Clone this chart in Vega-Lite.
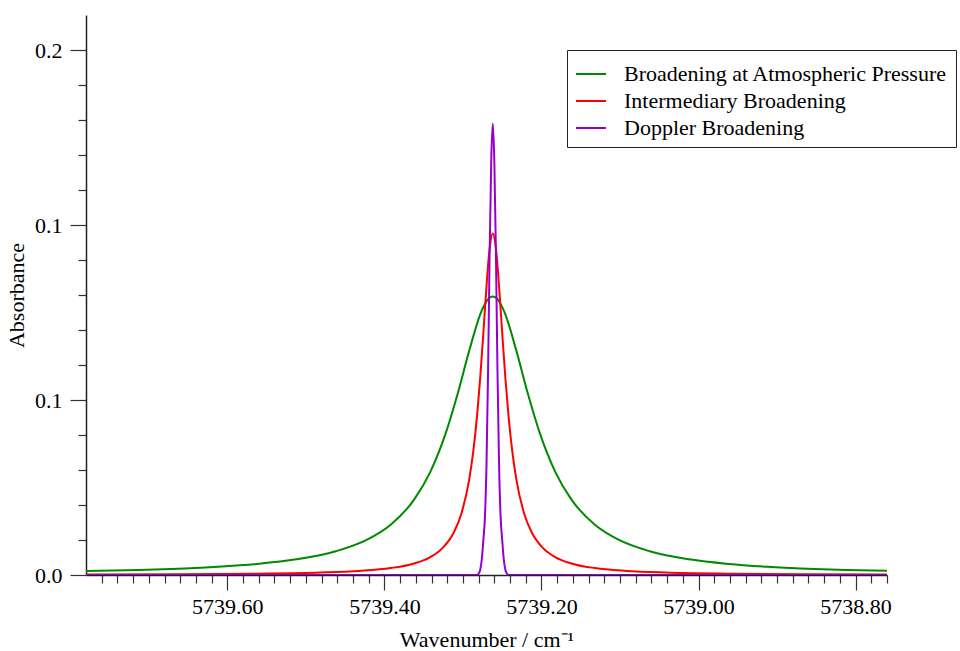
{
  "$schema": "https://vega.github.io/schema/vega-lite/v6.json",
  "width": 801,
  "height": 560,
  "autosize": {"type": "none"},
  "padding": {"left": 86, "top": 15, "right": 73, "bottom": 76},
  "background": "white",
  "config": {"view": {"stroke": null}, "font": "Liberation Serif"},
  "data": {"values": [
    {"s": "Broadening at Atmospheric Pressure", "x": 5739.780, "y": 0.00112},
    {"s": "Broadening at Atmospheric Pressure", "x": 5739.712, "y": 0.00144},
    {"s": "Broadening at Atmospheric Pressure", "x": 5739.662, "y": 0.00181},
    {"s": "Broadening at Atmospheric Pressure", "x": 5739.612, "y": 0.00235},
    {"s": "Broadening at Atmospheric Pressure", "x": 5739.562, "y": 0.00316},
    {"s": "Broadening at Atmospheric Pressure", "x": 5739.512, "y": 0.00447},
    {"s": "Broadening at Atmospheric Pressure", "x": 5739.462, "y": 0.00678},
    {"s": "Broadening at Atmospheric Pressure", "x": 5739.422, "y": 0.01010},
    {"s": "Broadening at Atmospheric Pressure", "x": 5739.392, "y": 0.01436},
    {"s": "Broadening at Atmospheric Pressure", "x": 5739.362, "y": 0.02159},
    {"s": "Broadening at Atmospheric Pressure", "x": 5739.342, "y": 0.02927},
    {"s": "Broadening at Atmospheric Pressure", "x": 5739.322, "y": 0.04046},
    {"s": "Broadening at Atmospheric Pressure", "x": 5739.307, "y": 0.05155},
    {"s": "Broadening at Atmospheric Pressure", "x": 5739.292, "y": 0.06410},
    {"s": "Broadening at Atmospheric Pressure", "x": 5739.277, "y": 0.07506},
    {"s": "Broadening at Atmospheric Pressure", "x": 5739.269, "y": 0.07857},
    {"s": "Broadening at Atmospheric Pressure", "x": 5739.262, "y": 0.07960},
    {"s": "Broadening at Atmospheric Pressure", "x": 5739.255, "y": 0.07857},
    {"s": "Broadening at Atmospheric Pressure", "x": 5739.247, "y": 0.07506},
    {"s": "Broadening at Atmospheric Pressure", "x": 5739.232, "y": 0.06410},
    {"s": "Broadening at Atmospheric Pressure", "x": 5739.217, "y": 0.05155},
    {"s": "Broadening at Atmospheric Pressure", "x": 5739.202, "y": 0.04046},
    {"s": "Broadening at Atmospheric Pressure", "x": 5739.182, "y": 0.02927},
    {"s": "Broadening at Atmospheric Pressure", "x": 5739.162, "y": 0.02159},
    {"s": "Broadening at Atmospheric Pressure", "x": 5739.132, "y": 0.01436},
    {"s": "Broadening at Atmospheric Pressure", "x": 5739.102, "y": 0.01010},
    {"s": "Broadening at Atmospheric Pressure", "x": 5739.062, "y": 0.00678},
    {"s": "Broadening at Atmospheric Pressure", "x": 5739.012, "y": 0.00447},
    {"s": "Broadening at Atmospheric Pressure", "x": 5738.962, "y": 0.00316},
    {"s": "Broadening at Atmospheric Pressure", "x": 5738.912, "y": 0.00235},
    {"s": "Broadening at Atmospheric Pressure", "x": 5738.862, "y": 0.00181},
    {"s": "Broadening at Atmospheric Pressure", "x": 5738.812, "y": 0.00144},
    {"s": "Broadening at Atmospheric Pressure", "x": 5738.760, "y": 0.00118},
    {"s": "Intermediary Broadening", "x": 5739.780, "y": 0.00013},
    {"s": "Intermediary Broadening", "x": 5739.662, "y": 0.00021},
    {"s": "Intermediary Broadening", "x": 5739.562, "y": 0.00038},
    {"s": "Intermediary Broadening", "x": 5739.482, "y": 0.00070},
    {"s": "Intermediary Broadening", "x": 5739.432, "y": 0.00117},
    {"s": "Intermediary Broadening", "x": 5739.392, "y": 0.00198},
    {"s": "Intermediary Broadening", "x": 5739.362, "y": 0.00330},
    {"s": "Intermediary Broadening", "x": 5739.342, "y": 0.00506},
    {"s": "Intermediary Broadening", "x": 5739.327, "y": 0.00747},
    {"s": "Intermediary Broadening", "x": 5739.312, "y": 0.01199},
    {"s": "Intermediary Broadening", "x": 5739.302, "y": 0.01752},
    {"s": "Intermediary Broadening", "x": 5739.292, "y": 0.02733},
    {"s": "Intermediary Broadening", "x": 5739.287, "y": 0.03504},
    {"s": "Intermediary Broadening", "x": 5739.282, "y": 0.04555},
    {"s": "Intermediary Broadening", "x": 5739.278, "y": 0.05637},
    {"s": "Intermediary Broadening", "x": 5739.274, "y": 0.06915},
    {"s": "Intermediary Broadening", "x": 5739.270, "y": 0.08251},
    {"s": "Intermediary Broadening", "x": 5739.266, "y": 0.09333},
    {"s": "Intermediary Broadening", "x": 5739.262, "y": 0.09760},
    {"s": "Intermediary Broadening", "x": 5739.258, "y": 0.09333},
    {"s": "Intermediary Broadening", "x": 5739.254, "y": 0.08251},
    {"s": "Intermediary Broadening", "x": 5739.250, "y": 0.06915},
    {"s": "Intermediary Broadening", "x": 5739.246, "y": 0.05637},
    {"s": "Intermediary Broadening", "x": 5739.242, "y": 0.04555},
    {"s": "Intermediary Broadening", "x": 5739.237, "y": 0.03504},
    {"s": "Intermediary Broadening", "x": 5739.232, "y": 0.02733},
    {"s": "Intermediary Broadening", "x": 5739.222, "y": 0.01752},
    {"s": "Intermediary Broadening", "x": 5739.212, "y": 0.01199},
    {"s": "Intermediary Broadening", "x": 5739.197, "y": 0.00747},
    {"s": "Intermediary Broadening", "x": 5739.182, "y": 0.00506},
    {"s": "Intermediary Broadening", "x": 5739.162, "y": 0.00330},
    {"s": "Intermediary Broadening", "x": 5739.132, "y": 0.00198},
    {"s": "Intermediary Broadening", "x": 5739.092, "y": 0.00117},
    {"s": "Intermediary Broadening", "x": 5739.042, "y": 0.00070},
    {"s": "Intermediary Broadening", "x": 5738.962, "y": 0.00038},
    {"s": "Intermediary Broadening", "x": 5738.862, "y": 0.00021},
    {"s": "Intermediary Broadening", "x": 5738.760, "y": 0.00014},
    {"s": "Doppler Broadening", "x": 5739.780, "y": 0},
    {"s": "Doppler Broadening", "x": 5739.282, "y": 0},
    {"s": "Doppler Broadening", "x": 5739.280, "y": 0.0004},
    {"s": "Doppler Broadening", "x": 5739.278, "y": 0.0015},
    {"s": "Doppler Broadening", "x": 5739.276, "y": 0.0045},
    {"s": "Doppler Broadening", "x": 5739.274, "y": 0.0100},
    {"s": "Doppler Broadening", "x": 5739.272, "y": 0.0165},
    {"s": "Doppler Broadening", "x": 5739.270, "y": 0.0315},
    {"s": "Doppler Broadening", "x": 5739.268, "y": 0.0580},
    {"s": "Doppler Broadening", "x": 5739.266, "y": 0.0920},
    {"s": "Doppler Broadening", "x": 5739.264, "y": 0.1180},
    {"s": "Doppler Broadening", "x": 5739.262, "y": 0.1290},
    {"s": "Doppler Broadening", "x": 5739.260, "y": 0.1180},
    {"s": "Doppler Broadening", "x": 5739.258, "y": 0.0920},
    {"s": "Doppler Broadening", "x": 5739.256, "y": 0.0580},
    {"s": "Doppler Broadening", "x": 5739.254, "y": 0.0315},
    {"s": "Doppler Broadening", "x": 5739.252, "y": 0.0165},
    {"s": "Doppler Broadening", "x": 5739.250, "y": 0.0100},
    {"s": "Doppler Broadening", "x": 5739.248, "y": 0.0045},
    {"s": "Doppler Broadening", "x": 5739.246, "y": 0.0015},
    {"s": "Doppler Broadening", "x": 5739.244, "y": 0.0004},
    {"s": "Doppler Broadening", "x": 5739.242, "y": 0},
    {"s": "Doppler Broadening", "x": 5738.760, "y": 0}
  ]},
  "mark": {"type": "line", "interpolate": "monotone", "strokeWidth": 2, "clip": true},
  "encoding": {
    "x": {
      "field": "x", "type": "quantitative",
      "scale": {"domain": [5738.76, 5739.78], "reverse": true, "zero": false, "nice": false},
      "axis": {
        "title": "Wavenumber / cm⁻¹",
        "values": [5739.76,5739.74,5739.72,5739.70,5739.68,5739.66,5739.64,5739.62,5739.60,5739.58,5739.56,5739.54,5739.52,5739.50,5739.48,5739.46,5739.44,5739.42,5739.40,5739.38,5739.36,5739.34,5739.32,5739.30,5739.28,5739.26,5739.24,5739.22,5739.20,5739.18,5739.16,5739.14,5739.12,5739.10,5739.08,5739.06,5739.04,5739.02,5739.00,5738.98,5738.96,5738.94,5738.92,5738.90,5738.88,5738.86,5738.84,5738.82,5738.80,5738.78,5738.76],
        "labelExpr": "round(datum.value*100)%20==0 ? format(datum.value,'.2f') : ''",
        "tickSize": {"condition": {"test": "round(datum.value*100)%20==0", "value": 15}, "value": 8},
        "grid": false,
        "domainColor": "#222", "domainWidth": 1.5,
        "tickColor": "#333", "tickWidth": 1.2,
        "labelFont": "Liberation Serif", "labelFontSize": 22, "labelColor": "black",
        "labelPadding": 6, "labelOverlap": false, "labelFlush": false, "labelBound": false,
        "titleFont": "Liberation Serif", "titleFontSize": 22, "titleFontWeight": "normal", "titleColor": "black",
        "titlePadding": 12
      }
    },
    "y": {
      "field": "y", "type": "quantitative",
      "scale": {"domain": [0, 0.16], "nice": false},
      "axis": {
        "title": "Absorbance",
        "values": [0,0.01,0.02,0.03,0.04,0.05,0.06,0.07,0.08,0.09,0.10,0.11,0.12,0.13,0.14,0.15],
        "labelExpr": "round(datum.value*100)%5==0 ? (datum.value<0.001 ? '0.0' : (datum.value<0.12 ? '0.1' : '0.2')) : ''",
        "tickSize": {"condition": {"test": "round(datum.value*100)%5==0", "value": 16}, "value": 8},
        "grid": false,
        "domainColor": "#222", "domainWidth": 1.5,
        "tickColor": "#333", "tickWidth": 1.2,
        "labelFont": "Liberation Serif", "labelFontSize": 22, "labelColor": "black",
        "labelPadding": 8, "labelOverlap": false, "labelFlush": false, "labelBound": false,
        "titleFont": "Liberation Serif", "titleFontSize": 22, "titleFontWeight": "normal", "titleColor": "black",
        "titlePadding": 6
      }
    },
    "color": {
      "field": "s", "type": "nominal",
      "scale": {
        "domain": ["Broadening at Atmospheric Pressure", "Intermediary Broadening", "Doppler Broadening"],
        "range": ["#008a00", "#ff0000", "#9400d3"]
      },
      "legend": {
        "title": null, "orient": "none", "legendX": 481, "legendY": 35,
        "symbolType": "stroke", "symbolStrokeWidth": 2, "symbolSize": 900,
        "labelFont": "Liberation Serif", "labelFontSize": 22, "labelColor": "black", "labelLimit": 600,
        "labelOffset": 17, "rowPadding": -3,
        "strokeColor": "#222", "fillColor": "white", "padding": 8
      }
    }
  }
}
